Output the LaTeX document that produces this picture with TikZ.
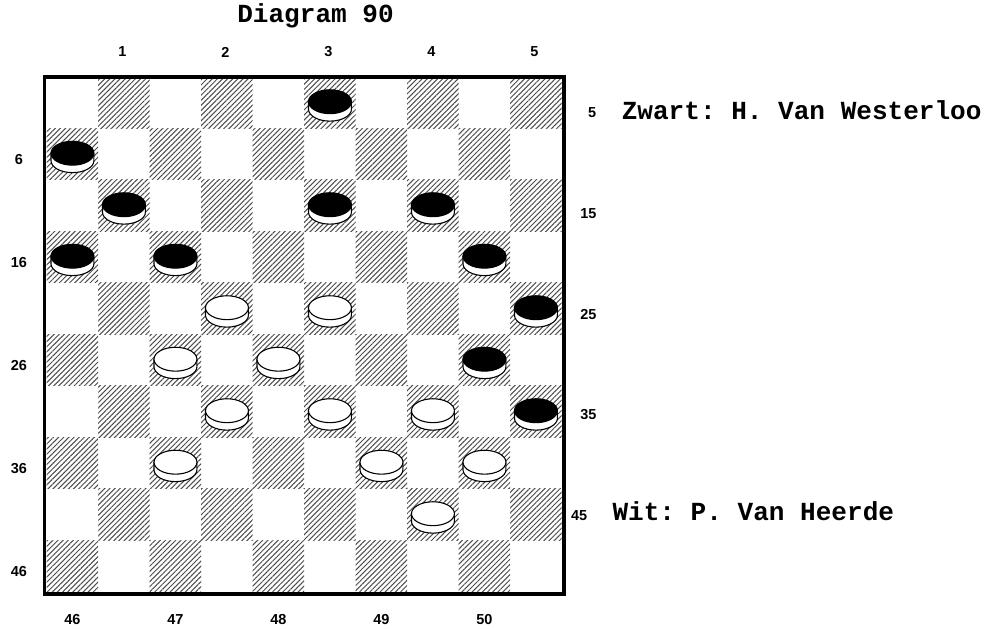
\documentclass[tikz,border=0pt]{standalone}
\usepackage{fontspec}
\setmainfont{Liberation Sans}
\newfontfamily\courierfont{Liberation Mono}
\usetikzlibrary{patterns.meta}

\begin{document}
\begin{tikzpicture}[
    darksq/.style={pattern={Lines[angle=45, distance=2.0pt, line width=0.55pt]}, pattern color=black!70},
    border/.style={draw, line width=2.2pt},
    num/.style={font=\bfseries\fontsize{8}{9}\selectfont, inner sep=0pt},
    caption/.style={font=\courierfont\bfseries\frenchspacing\fontsize{14.4}{16}\selectfont, inner sep=0pt},
    pieceline/.style={draw=black, line width=0.6pt},
    man/.pic={
        \path[pieceline, fill=white] (-0.417,0) -- (-0.417,-0.145)
            arc[start angle=180, end angle=360, x radius=0.417, y radius=0.232] -- (0.417,0) -- cycle;
        \path[pieceline, fill=#1] (0,0) ellipse[x radius=0.417, y radius=0.232];
    }
]
\useasboundingbox (-0.907,-0.718) rectangle (18.433,11.495);

% dark squares
\foreach \r in {1,...,10}
    \foreach \k in {1,...,5} {
        \pgfmathtruncatemacro\c{2*\k-1+mod(\r,2)}
        \path[darksq] (\c-1,10-\r) rectangle ++(1,1);
    }
\draw[border] (-0.043,-0.045) rectangle (10.039,10.0);

% pieces
\foreach \n/\col in {3/black,6/black,11/black,13/black,14/black,16/black,17/black,20/black,25/black,30/black,35/black,
                     22/white,23/white,27/white,28/white,32/white,33/white,34/white,37/white,39/white,40/white,44/white} {
    \pgfmathtruncatemacro\r{ceil(\n/5)}
    \pgfmathtruncatemacro\c{2*(\n-5*(\r-1))-1+mod(\r,2)}
    \pic at (\c-0.5,10.52-\r) {man=\col};
}

% square numbers
\foreach \t [count=\i] in {1,...,5}
    \node[num] (top\t) at (2*\i-0.53,10.485) {\t};
\foreach \t [count=\i] in {6,16,26,36,46}
    \node[num] (left\t) at (-0.54,10.39-2*\i) {\t};
\foreach \t/\x/\y in {5/10.59/9.22,15/10.52/7.26,25/10.52/5.30,35/10.52/3.34,45/10.34/1.38}
    \node[num, anchor=base] (right\t) at (\x,\y) {\t};
\foreach \t [count=\i] in {46,...,50}
    \node[num] (bottom\t) at (2*\i-1.5,-0.54) {\t};

% captions
\node[caption, anchor=base] (title) at (5.22,11.05) {Diagram 90};
\node[caption, anchor=base west] (zwart) at (11.16,9.165) {Zwart: H. Van Westerloo};
\node[caption, anchor=base west] (wit) at (10.98,1.38) {Wit: P. Van Heerde};
\end{tikzpicture}
\end{document}
